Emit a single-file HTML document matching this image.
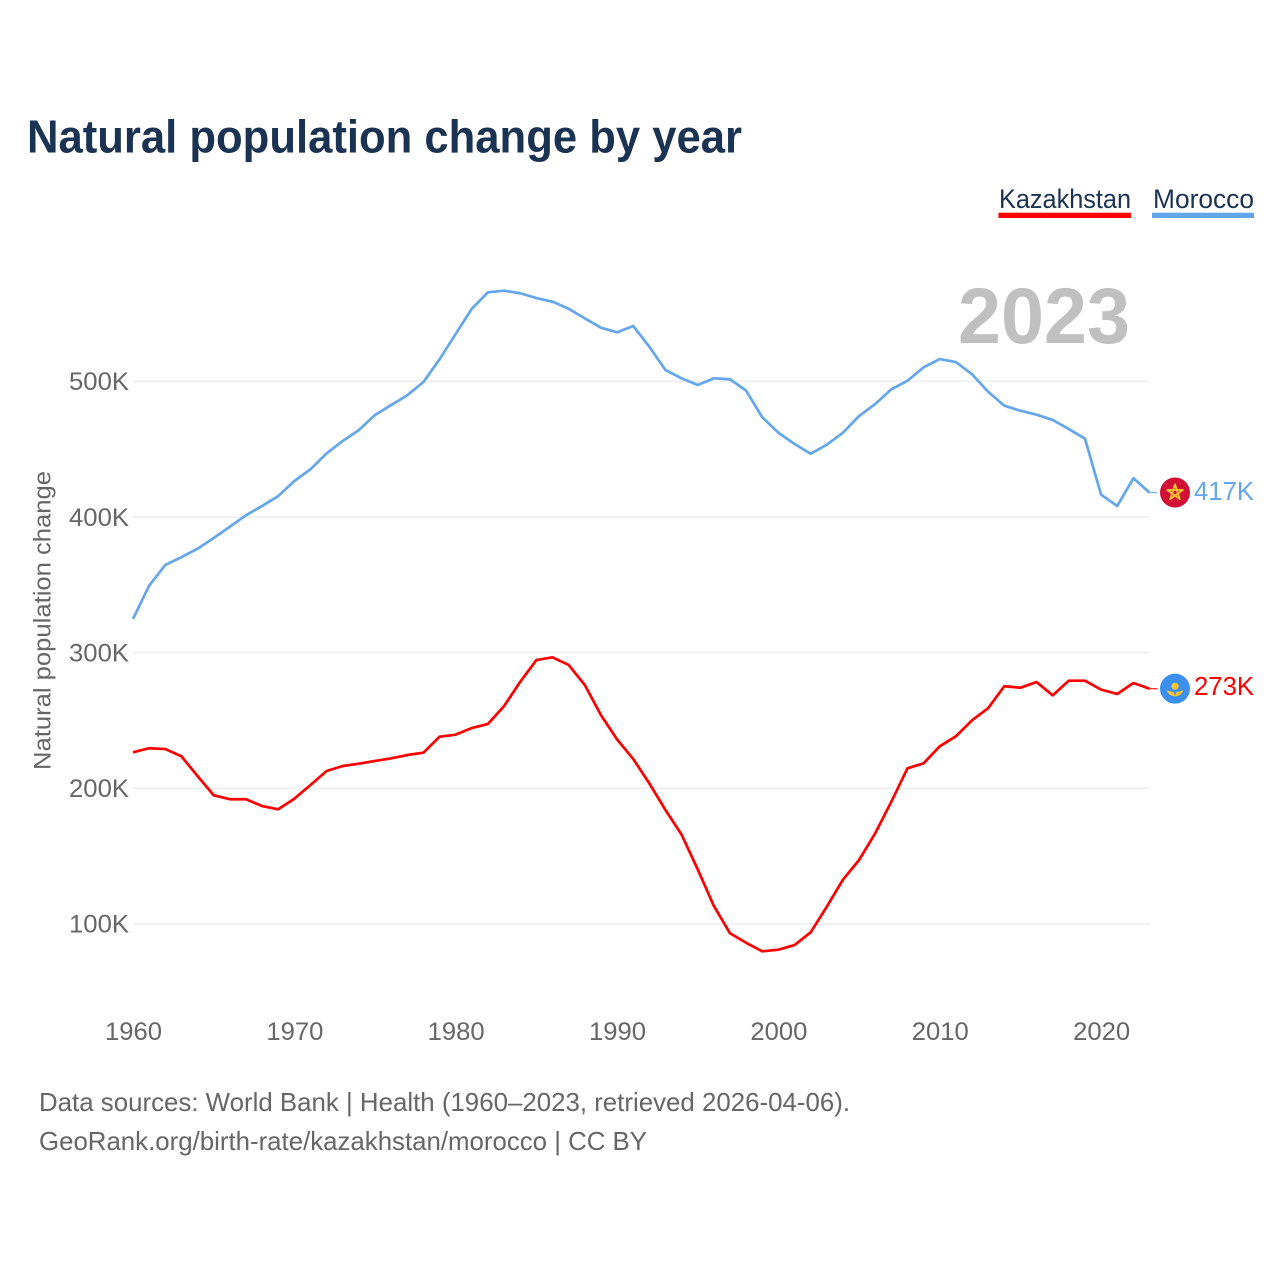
<!DOCTYPE html>
<html lang="en">
<head>
<meta charset="utf-8">
<title>Natural population change by year</title>
<style>
html,body{margin:0;padding:0;background:#fff;width:1280px;height:1280px;overflow:hidden}
svg{display:block;font-family:"Liberation Sans",sans-serif}
</style>
</head>
<body>
<svg id="chart" xmlns="http://www.w3.org/2000/svg" width="1280" height="1280" viewBox="0 0 1280 1280">
  <rect width="1280" height="1280" fill="#ffffff"/>
  <text x="27" y="152.5" font-size="46" font-weight="700" fill="#1a3353" textLength="715" lengthAdjust="spacingAndGlyphs">Natural population change by year</text>
  <g>
    <g>
      <text x="999" y="208" font-size="27" fill="#1a3353" textLength="132" lengthAdjust="spacingAndGlyphs">Kazakhstan</text>
      <rect x="998.5" y="212.7" width="132.5" height="5.3" fill="#ff0000"/>
    </g>
    <g>
      <text x="1153" y="208" font-size="27" fill="#1a3353" textLength="101" lengthAdjust="spacingAndGlyphs">Morocco</text>
      <rect x="1152" y="212.7" width="102" height="5.3" fill="#64a6ec"/>
    </g>
  </g>
  <text x="958" y="343" font-size="79" font-weight="700" fill="#c0c0c0" textLength="172" lengthAdjust="spacingAndGlyphs">2023</text>
  <g id="grid"></g>
  <g id="yticks"></g>
  <g id="xticks"></g>
  <text transform="translate(50.5,620.5) rotate(-90)" text-anchor="middle" font-size="24.5" fill="#666666" textLength="299" lengthAdjust="spacingAndGlyphs">Natural population change</text>
  <g id="series"></g>
  <g id="morocco-end">
    <circle cx="0" cy="0" r="15" fill="#d20f34"/>
    <path d="M0-8.2 4.8 6.6-7.8-2.5H7.8L-4.8 6.6Z" fill="none" stroke="#fcc52e" stroke-width="1.8" stroke-linejoin="round"/>
  </g>
  <g id="kazakhstan-end">
    <circle cx="0" cy="0" r="15" fill="#3a8fef"/>
    <circle cx="0" cy="-2.5" r="3.6" fill="#fcc52e"/>
    <path d="M-8.5 1.5C-5 3-3 3-1.5 3.2L0 7 1.5 3.2C3 3 5 3 8.5 1.5 6.5 6.5 3 7.5 0 7.8-3 7.5-6.5 6.5-8.5 1.5Z" fill="#fcc52e"/>
  </g>
  <g id="end-labels"></g>
  <g>
    <text x="39" y="1111" font-size="26" fill="#666666" textLength="811" lengthAdjust="spacingAndGlyphs">Data sources: World Bank | Health (1960–2023, retrieved 2026-04-06).</text>
    <text x="39" y="1150" font-size="26" fill="#666666" textLength="608" lengthAdjust="spacingAndGlyphs">GeoRank.org/birth-rate/kazakhstan/morocco | CC BY</text>
  </g>
</svg>
<script>
const years = [1960,1961,1962,1963,1964,1965,1966,1967,1968,1969,1970,1971,1972,1973,1974,1975,1976,1977,1978,1979,1980,1981,1982,1983,1984,1985,1986,1987,1988,1989,1990,1991,1992,1993,1994,1995,1996,1997,1998,1999,2000,2001,2002,2003,2004,2005,2006,2007,2008,2009,2010,2011,2012,2013,2014,2015,2016,2017,2018,2019,2020,2021,2022,2023];
const moroccoValues = [324.8,349.3,364.6,370.3,376.6,384.5,392.8,401.2,408.1,415.4,426.5,435.1,446.9,456,464.1,475.2,482.5,489.7,499.5,516.2,534.9,553.5,565.6,566.8,564.9,561.4,558.7,553.5,546.4,539.5,536.1,540.8,525.5,508.3,502.2,497.3,502.2,501.5,493.1,473.5,462.1,453.8,446.6,453.3,462.1,474.4,483.3,494.1,500.4,510.3,516.4,514.2,505.2,492.3,482,478.3,475.4,471.5,464.8,457.7,416.4,408.1,428.5,418];
const kazakhstanValues = [226.5,229.5,228.9,223.6,209,194.8,191.9,191.9,186.9,184.5,192.3,202.4,212.7,216.4,218.1,220.1,222.1,224.5,226.2,238,239.5,244.4,247.4,260.6,278.5,294.5,296.5,290.9,276.1,254,236,221.6,203.6,184,165.8,140.2,113.2,93.1,86.1,79.8,81,84.4,93.8,112.7,132.6,147.1,166.8,190.1,214.7,218.4,230.9,238.3,250.1,259,275.2,274.1,278.3,268.5,279.3,279.3,272.7,269.5,277.6,273.4];
const yTickValues = [100,200,300,400,500];
const yTickLabels = ["100K","200K","300K","400K","500K"];
const xTickYears = [1960,1970,1980,1990,2000,2010,2020];
const moroccoEndLabel = "417K";
const kazakhstanEndLabel = "273K";

const NS = "http://www.w3.org/2000/svg";
const xScale = function (year) { return 133 + (year - 1960) * (1149.5 - 133) / (2023 - 1960); };
const yScale = function (v) { return 381.3 + (500 - v) * 1.3565; };
const make = function (tag, parent, attrs, text) {
  const el = document.createElementNS(NS, tag);
  Object.keys(attrs).forEach(function (k) { el.setAttribute(k, attrs[k]); });
  if (text !== undefined) el.textContent = text;
  parent.appendChild(el);
  return el;
};
const gridG = document.getElementById("grid");
const yG = document.getElementById("yticks");
const xG = document.getElementById("xticks");
const seriesG = document.getElementById("series");
const endG = document.getElementById("end-labels");

yTickValues.forEach(function (v, i) {
  const line = make("line", gridG, {x1: xScale(1960), x2: xScale(2023), y1: yScale(v), y2: yScale(v), stroke: "#eeeeee", "stroke-width": 1.6});
  
  
  const label = make("text", yG, {x: 129, y: yScale(v) + 8.8, "text-anchor": "end", "font-size": 25, fill: "#666666", textLength: 60, lengthAdjust: "spacingAndGlyphs"}, yTickLabels[i]);
  
  
});
xTickYears.forEach(function (yr) {
  const label = make("text", xG, {x: xScale(yr) + 0.5, y: 1040, "text-anchor": "middle", "font-size": 25, fill: "#666666", textLength: 57, lengthAdjust: "spacingAndGlyphs"}, String(yr));
  
  
});

const linePath = function (values) {
  return values.map(function (v, i) {
    return (i ? "L" : "M") + xScale(years[i]).toFixed(2) + " " + yScale(v).toFixed(2);
  }).join("");
};
const morocco = make("path", seriesG, {d: linePath(moroccoValues), fill: "none", stroke: "#64a6ec", "stroke-width": 2.7, "stroke-linejoin": "round"});


const kazakhstan = make("path", seriesG, {d: linePath(kazakhstanValues), fill: "none", stroke: "#ff0000", "stroke-width": 2.7, "stroke-linejoin": "round"});



const lastX = xScale(years[years.length - 1]);
const moroccoY = yScale(moroccoValues[moroccoValues.length - 1]);
const kazakhstanY = yScale(kazakhstanValues[kazakhstanValues.length - 1]);
const moroccoStub = make("line", seriesG, {x1: lastX, x2: lastX + 8, y1: moroccoY, y2: moroccoY, stroke: "#64a6ec", "stroke-width": 1.4, opacity: 0.8});


const kazakhstanStub = make("line", seriesG, {x1: lastX, x2: lastX + 8, y1: kazakhstanY, y2: kazakhstanY, stroke: "#ff0000", "stroke-width": 1.4, opacity: 0.8});



document.getElementById("morocco-end").setAttribute("transform", "translate(" + (lastX + 25.5) + "," + moroccoY + ")");
document.getElementById("kazakhstan-end").setAttribute("transform", "translate(" + (lastX + 25.5) + "," + kazakhstanY + ")");

const moroccoText = make("text", endG, {x: 1194, y: moroccoY + 7.7, "font-size": 26, fill: "#64a6ec", textLength: 60, lengthAdjust: "spacingAndGlyphs"}, moroccoEndLabel);


const kazakhstanText = make("text", endG, {x: 1194, y: kazakhstanY + 6.3, "font-size": 26, fill: "#ff0000", textLength: 60, lengthAdjust: "spacingAndGlyphs"}, kazakhstanEndLabel);


</script>
</body>
</html>
